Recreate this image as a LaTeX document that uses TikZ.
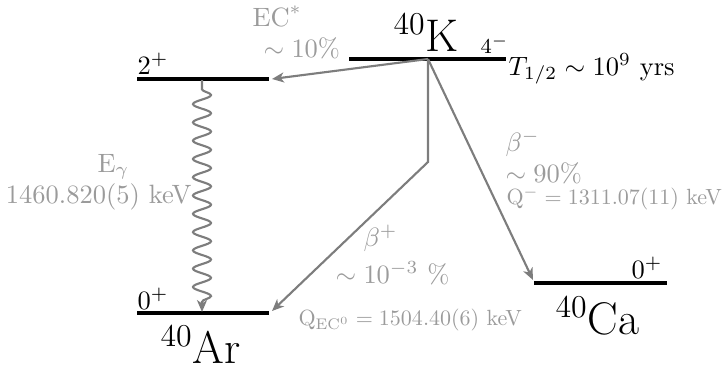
\documentclass[tikz,border=0pt]{standalone}
\usetikzlibrary{arrows.meta,decorations.pathmorphing}
\definecolor{txtgray}{RGB}{155,155,155}
\definecolor{arrgray}{RGB}{125,125,125}
\newcommand{\qtxt}[1]{\scalebox{0.83}{#1}}
\begin{document}
\begin{tikzpicture}[x=0.3774pt,y=-0.3774pt,
  level/.style={line width=1.2pt,black},
  trans/.style={draw=arrgray,line width=0.8pt,-{Stealth[length=4.5pt,width=3.8pt,inset=1.3pt]}},
  lbl/.style={text=txtgray,inner sep=0pt},
  blk/.style={text=black,inner sep=0pt},
]
\useasboundingbox (0,0) rectangle (723,364);
% level coordinates
\coordinate (kL) at (349,59);  \coordinate (kR) at (506,59);
\coordinate (eL) at (137,79);  \coordinate (eR) at (269,79);
\coordinate (aL) at (137,313); \coordinate (aR) at (269,313);
\coordinate (cL) at (534,283); \coordinate (cR) at (667,283);
\coordinate (apex) at (428,59);
\coordinate (bend) at (428,162);
\coordinate (ectip) at (272,79);
\coordinate (bptip) at (272,311);
\coordinate (bmtip) at (533,280);
\coordinate (gtop) at (202,80);
\coordinate (gbot) at (202,312);
% levels
\draw[level] (kL) -- (kR);
\draw[level] (eL) -- (eR);
\draw[level] (aL) -- (aR);
\draw[level] (cL) -- (cR);
% transitions
\draw[trans] (apex) -- (ectip);
\draw[trans] (apex) -- (bend) -- (bptip);
\draw[trans] (apex) -- (bmtip);
\draw[draw=arrgray,line width=0.8pt,-{Stealth[length=4.5pt,width=3.8pt,inset=1.3pt]},
  decorate,decoration={snake,amplitude=3.4pt,segment length=6.9pt,pre length=3.5pt,post length=3pt}] (gtop) -- (gbot);
% black labels
\node[blk,font=\LARGE,anchor=base west] (kname) at (393,51) {$^{40}$K};
\node[blk,font=\footnotesize,anchor=base west] (kspin) at (480,53) {$4^-$};
\node[blk,anchor=base west] (thalf) at (508,75) {$T_{1/2}\sim 10^9$ yrs};
\node[blk,anchor=base west] (espin) at (137,74) {$2^+$};
\node[blk,anchor=base west] (aspin) at (137,309) {$0^+$};
\node[blk,font=\LARGE,anchor=base west] (aname) at (160,363) {$^{40}$Ar};
\node[blk,font=\LARGE,anchor=base west] (cname) at (555,334) {$^{40}$Ca};
\node[blk,anchor=base east] (cspin) at (663,278) {$0^+$};
% gray labels
\node[lbl,anchor=base west] (ec) at (252,26) {$\mathrm{EC}^*$};
\node[lbl,anchor=base west] (ecp) at (263,57) {$\sim 10\%$};
\node[lbl,anchor=base west] (eg) at (97,172) {$\mathrm{E}_\gamma$};
\node[lbl,anchor=base east] (egv) at (192,203) {1460.820(5) keV};
\node[lbl,anchor=base west] (bm) at (505,151) {$\beta^-$};
\node[lbl,anchor=base west] (bmp) at (505,182) {$\sim 90\%$};
\node[lbl,anchor=base west] (qm) at (506,204) {\qtxt{$\mathrm{Q}^- = 1311.07(11)$ keV}};
\node[lbl,anchor=base west] (bp) at (363,246) {$\beta^+$};
\node[lbl,anchor=base west] (bpp) at (335,283) {$\sim 10^{-3}$ \%};
\node[lbl,anchor=base west] (qec) at (298,325) {\qtxt{$\mathrm{Q}_{\mathrm{EC}^0} = 1504.40(6)$ keV}};
\end{tikzpicture}
\end{document}
